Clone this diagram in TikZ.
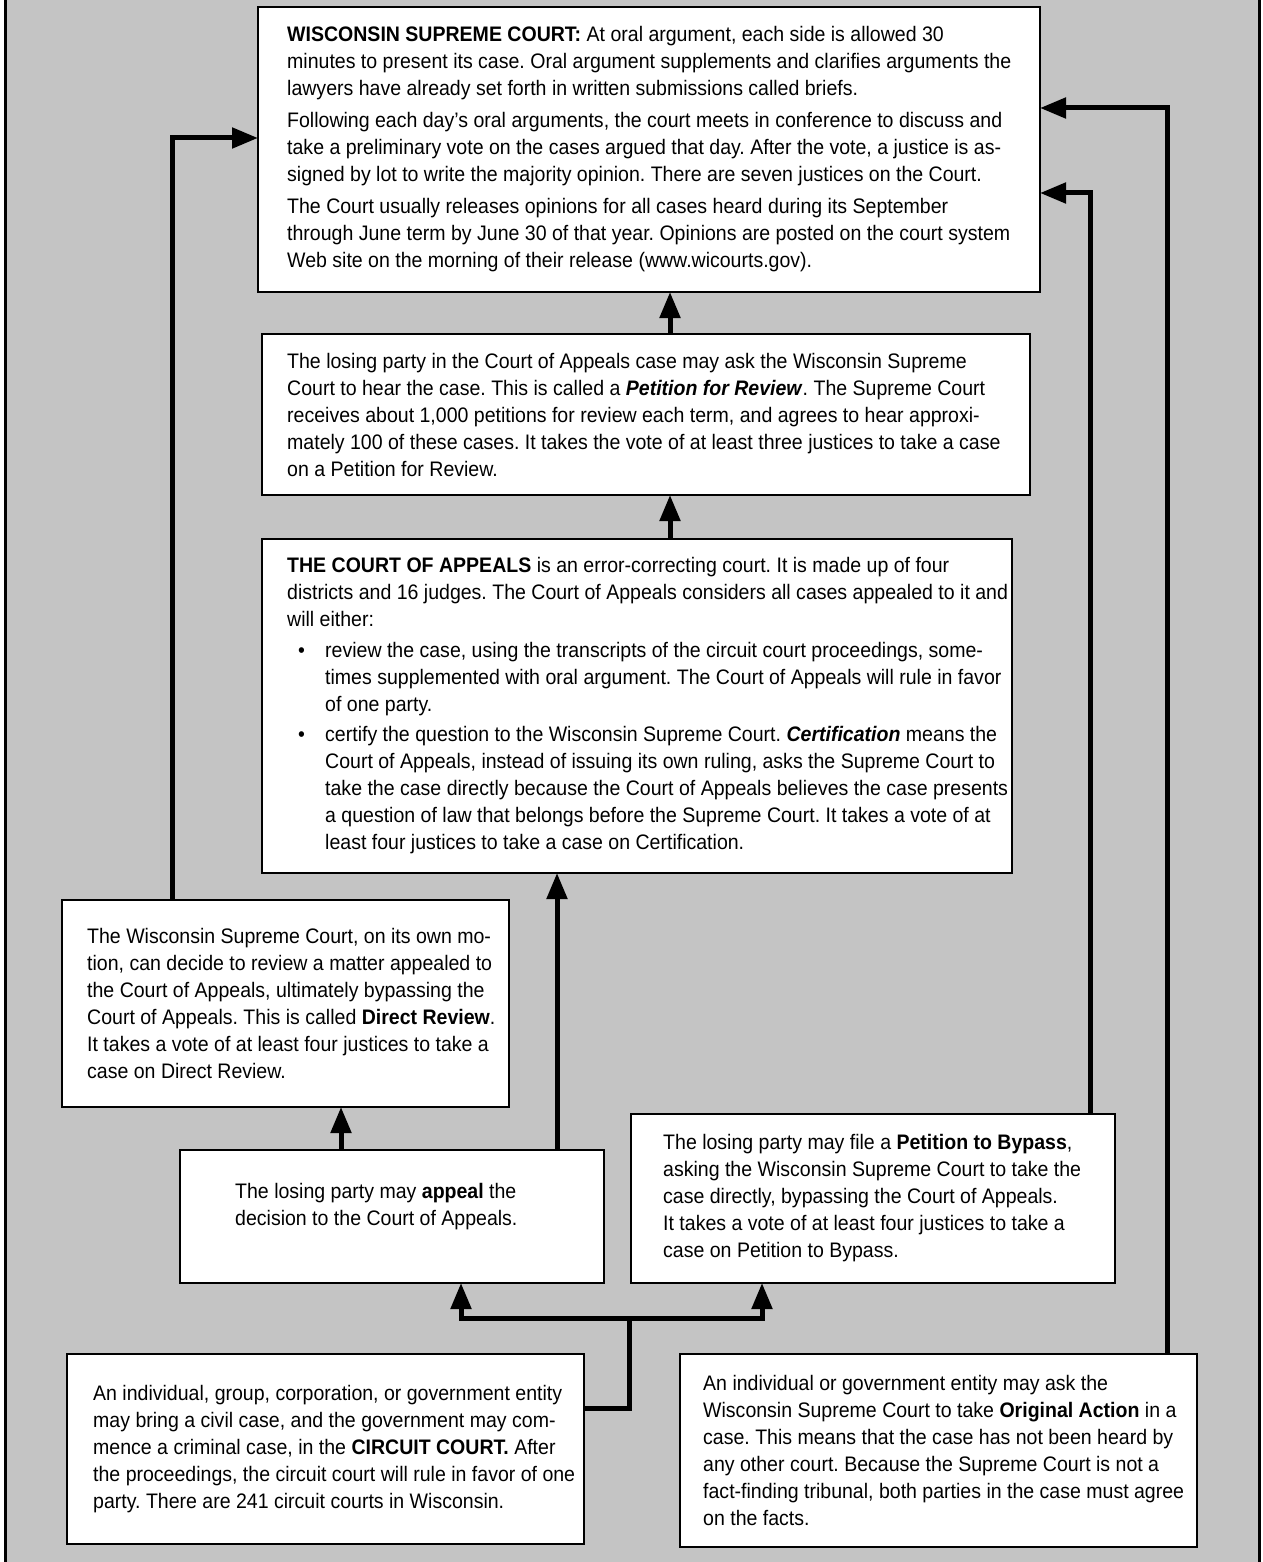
\documentclass[tikz,border=0pt]{standalone}
\usepackage{fontspec}
\setmainfont{Liberation Sans}[FakeStretch=0.93]
\usetikzlibrary{arrows.meta}
\definecolor{bggray}{RGB}{196,196,196}
\begin{document}
\frenchspacing
\begin{tikzpicture}[x=1pt,y=-1pt,
  box/.style={draw=black, line width=1.8pt, fill=white, anchor=north west, inner sep=0pt, outer sep=0pt},
  txt/.style={align=left, inner sep=0pt, anchor=west, font=\fontsize{21}{27}\selectfont\frenchspacing},
  conn/.style={line width=5pt, -{Triangle[length=26pt,width=20pt]}},
  wire/.style={line width=5pt}]
\useasboundingbox (0,0) rectangle (1262,1562);
\fill[white] (0,0) rectangle (1262,1562);
\fill[bggray] (7,0) rectangle (1258,1562);
\draw[line width=3pt] (5.5,0) -- (5.5,1562);
\draw[line width=3pt] (1259.5,0) -- (1259.5,1562);

% boxes
\node[box, minimum width=782pt, minimum height=285pt] (sup) at (258,7) {};
\node[box, minimum width=768pt, minimum height=161pt] (pfr) at (262,334) {};
\node[box, minimum width=750pt, minimum height=334pt] (coa) at (262,539) {};
\node[box, minimum width=447pt, minimum height=207pt] (dr) at (62,900) {};
\node[box, minimum width=424pt, minimum height=133pt] (ap) at (180,1150) {};
\node[box, minimum width=484pt, minimum height=169pt] (bp) at (631,1114) {};
\node[box, minimum width=517pt, minimum height=190pt] (cc) at (67,1354) {};
\node[box, minimum width=517pt, minimum height=193pt] (oa) at (680,1354) {};

% texts
\node[txt] (supT) at ([xshift=29pt]sup.west) {\textbf{WISCONSIN SUPREME COURT:} At oral argument, each side is allowed 30\\
minutes to present its case. Oral argument supplements and clarifies arguments the\\
lawyers have already set forth in written submissions called briefs.\\[5pt]
Following each day's oral arguments, the court meets in conference to discuss and\\
take a preliminary vote on the cases argued that day. After the vote, a justice is as-\\
signed by lot to write the majority opinion. There are seven justices on the Court.\\[5pt]
The Court usually releases opinions for all cases heard during its September\\
through June term by June 30 of that year. Opinions are posted on the court system\\
Web site on the morning of their release (www.wicourts.gov).};

\node[txt] (pfrT) at ([xshift=25pt]pfr.west) {The losing party in the Court of Appeals case may ask the Wisconsin Supreme\\
Court to hear the case. This is called a \textbf{\textit{Petition for Review}}. The Supreme Court\\
receives about 1,000 petitions for review each term, and agrees to hear approxi-\\
mately 100 of these cases. It takes the vote of at least three justices to take a case\\
on a Petition for Review.};

\node[txt] (coaT) at ([xshift=25pt]coa.west) {\textbf{THE COURT OF APPEALS} is an error-correcting court. It is made up of four\\
districts and 16 judges. The Court of Appeals considers all cases appealed to it and\\
will either:\\[4pt]
\makebox[38pt][l]{\hspace*{11pt}•}review the case, using the transcripts of the circuit court proceedings, some-\\
\hspace*{38pt}times supplemented with oral argument. The Court of Appeals will rule in favor\\
\hspace*{38pt}of one party.\\[3pt]
\makebox[38pt][l]{\hspace*{11pt}•}certify the question to the Wisconsin Supreme Court. \textbf{\textit{Certification}} means the\\
\hspace*{38pt}Court of Appeals, instead of issuing its own ruling, asks the Supreme Court to\\
\hspace*{38pt}take the case directly because the Court of Appeals believes the case presents\\
\hspace*{38pt}a question of law that belongs before the Supreme Court. It takes a vote of at\\
\hspace*{38pt}least four justices to take a case on Certification.};

\node[txt] (drT) at ([xshift=25pt]dr.west) {The Wisconsin Supreme Court, on its own mo-\\
tion, can decide to review a matter appealed to\\
the Court of Appeals, ultimately bypassing the\\
Court of Appeals. This is called \textbf{Direct Review}.\\
It takes a vote of at least four justices to take a\\
case on Direct Review.};

\node[txt] (apT) at ([xshift=55pt,yshift=10pt]ap.west) {The losing party may \textbf{appeal} the\\
decision to the Court of Appeals.};

\node[txt] (bpT) at ([xshift=32pt]bp.west) {The losing party may file a \textbf{Petition to Bypass},\\
asking the Wisconsin Supreme Court to take the\\
case directly, bypassing the Court of Appeals.\\
It takes a vote of at least four justices to take a\\
case on Petition to Bypass.};

\node[txt] (ccT) at ([xshift=26pt]cc.west) {An individual, group, corporation, or government entity\\
may bring a civil case, and the government may com-\\
mence a criminal case, in the \textbf{CIRCUIT COURT.} After\\
the proceedings, the circuit court will rule in favor of one\\
party. There are 241 circuit courts in Wisconsin.};

\node[txt] (oaT) at ([xshift=23pt]oa.west) {An individual or government entity may ask the\\
Wisconsin Supreme Court to take \textbf{Original Action} in a\\
case. This means that the case has not been heard by\\
any other court. Because the Supreme Court is not a\\
fact-finding tribunal, both parties in the case must agree\\
on the facts.};

% helper coordinates
\coordinate (c670) at (670,0);
\coordinate (c557) at (557,0);
\coordinate (c341) at (341,0);
\coordinate (c172) at (172,0);
\coordinate (c1090) at (1090,0);
\coordinate (c1167) at (1167,0);
\coordinate (c461) at (461,0);
\coordinate (c762) at (762,0);
\coordinate (r138) at (0,138);
\coordinate (r193) at (0,193);
\coordinate (r108) at (0,108);
\coordinate (r1408) at (0,1408);
\coordinate (j) at (629,1318);

% connectors
\draw[conn] (pfr.north -| c670) -- (sup.south -| c670);
\draw[conn] (coa.north -| c670) -- (pfr.south -| c670);
\draw[conn] (ap.north -| c557) -- (coa.south -| c557);
\draw[conn] (ap.north -| c341) -- (dr.south -| c341);
\draw[conn] (dr.north -| c172) |- (sup.west |- r138);
\draw[conn] (bp.north -| c1090) |- (sup.east |- r193);
\draw[conn] (oa.north -| c1167) |- (sup.east |- r108);
\draw[wire] (cc.east |- r1408) -| (j);
\draw[conn] (j) -| (ap.south -| c461);
\draw[conn] (j) -| (bp.south -| c762);
\end{tikzpicture}
\end{document}
